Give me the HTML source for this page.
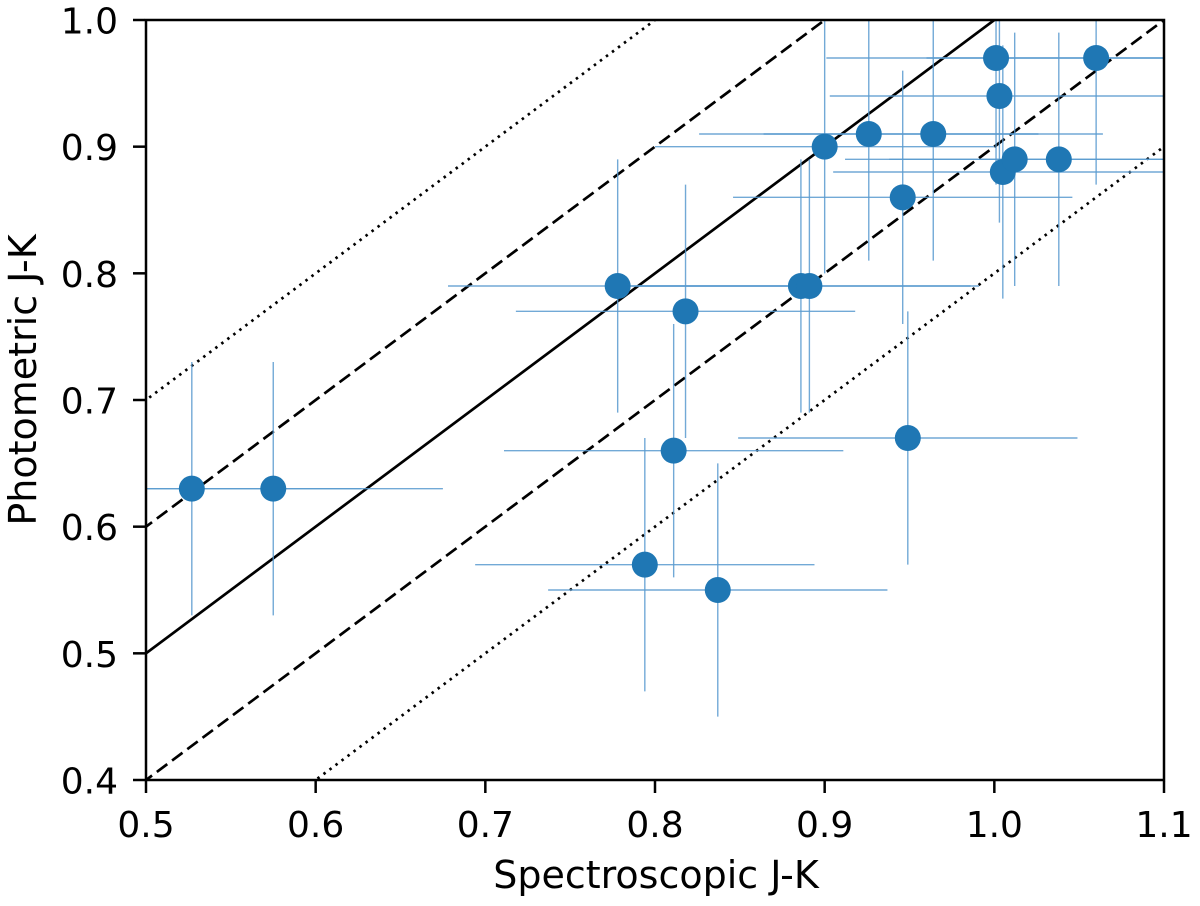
<!DOCTYPE html>
<html><head><meta charset="utf-8"><style>html,body{margin:0;background:#fff;overflow:hidden;width:1200px;height:906px}svg{display:block;font-family:"DejaVu Sans","Liberation Sans",sans-serif}</style></head>
<body>
<svg id="chart" width="1200" height="906" viewBox="0 0 1200 906" xmlns="http://www.w3.org/2000/svg">
<defs><clipPath id="clip"><rect x="146" y="20" width="1018" height="760"/></clipPath></defs>
<g id="lines" clip-path="url(#clip)"></g>
<g id="errs" clip-path="url(#clip)"></g>
<g id="pts" clip-path="url(#clip)"></g>
<rect x="146" y="20" width="1018" height="760" fill="none" stroke="#000" stroke-width="2.5"/>
<g id="ticks"></g>
<text x="656" y="888" font-size="38" text-anchor="middle">Spectroscopic J-K</text>
<text transform="translate(36,380) rotate(-90)" font-size="38" text-anchor="middle">Photometric J-K</text>
</svg>
<script>
const xs=[0.527,0.575,0.778,0.818,0.886,0.891,0.900,0.926,0.964,0.946,1.001,1.003,1.005,1.012,1.038,1.060,0.811,0.949,0.794,0.837];
const ys=[0.63,0.63,0.79,0.77,0.79,0.79,0.90,0.91,0.91,0.86,0.97,0.94,0.88,0.89,0.89,0.97,0.66,0.67,0.57,0.55];
const xerr=[0.1,0.1,0.1,0.1,0.1,0.1,0.1,0.1,0.1,0.1,0.1,0.1,0.1,0.1,0.1,0.1,0.1,0.1,0.1,0.1];
const yerr=[0.1,0.1,0.1,0.1,0.1,0.1,0.1,0.1,0.1,0.1,0.1,0.1,0.1,0.1,0.1,0.1,0.1,0.1,0.1,0.1];
const offsets=[0,0.1,-0.1,0.2,-0.2];
const xticks=["0.5","0.6","0.7","0.8","0.9","1.0","1.1"];
const yticks=["0.4","0.5","0.6","0.7","0.8","0.9","1.0"];
const NS="http://www.w3.org/2000/svg";
const X=v=>146+(v-0.5)/0.6*1018, Y=v=>780-(v-0.4)/0.6*760;
function mk(t,a,p){const e=document.createElementNS(NS,t);for(const k in a)e.setAttribute(k,a[k]);p.appendChild(e);return e;}
const L=document.getElementById('lines');
offsets.forEach(o=>{const d=Math.abs(o)<0.01?'':(Math.abs(o)<0.15?'13,6':'2.5,5');
const l=mk('line',{x1:X(0.3),y1:Y(0.3+o),x2:X(1.3),y2:Y(1.3+o),stroke:'#000','stroke-width':2.7,'stroke-dasharray':d},L);
});
const E=document.getElementById('errs'),P=document.getElementById('pts');
xs.forEach((x,i)=>{const y=ys[i];
const h=mk('line',{x1:X(x-xerr[i]),y1:Y(y),x2:X(x+xerr[i]),y2:Y(y),stroke:'#5a9bd0','stroke-width':1.4,opacity:0.85},E);

const v=mk('line',{x1:X(x),y1:Y(y-yerr[i]),x2:X(x),y2:Y(y+yerr[i]),stroke:'#5a9bd0','stroke-width':1.4,opacity:0.85},E);

const c=mk('circle',{cx:X(x),cy:Y(y),r:13,fill:'#1f77b4'},P);
});
const T=document.getElementById('ticks');
xticks.forEach(s=>{const x=X(+s);mk('line',{x1:x,y1:781,x2:x,y2:793,stroke:'#000','stroke-width':2.5},T);
const t=mk('text',{x:x,y:837,'font-size':36,'text-anchor':'middle'},T);t.textContent=s;
});
yticks.forEach(s=>{const y=Y(+s);mk('line',{x1:133,y1:y,x2:145,y2:y,stroke:'#000','stroke-width':2.5},T);
const t=mk('text',{x:118,y:y+13.5,'font-size':36,'text-anchor':'end'},T);t.textContent=s;
});
</script>
</body></html>
